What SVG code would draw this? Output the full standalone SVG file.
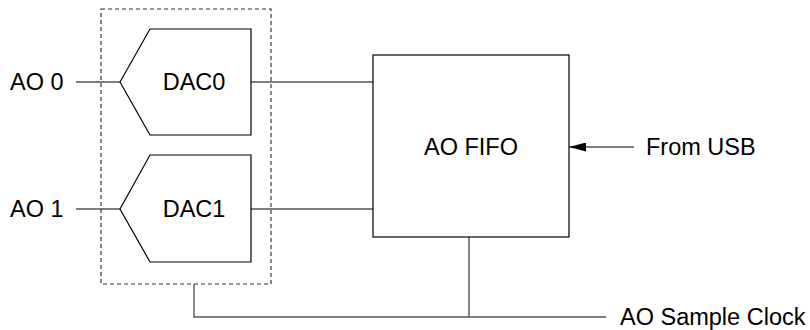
<svg xmlns="http://www.w3.org/2000/svg" width="810" height="330" viewBox="0 0 810 330">
<style>
text{font-family:"Liberation Sans",Arial,sans-serif;font-size:23.5px;fill:#000}
.ln{stroke:#000;stroke-width:1.2;fill:none}
.gr{stroke:#555;stroke-width:1.4;fill:none}
.box{stroke:#000;stroke-width:1.2;fill:#fff}
.dash{stroke:#333;stroke-width:1.2;fill:none;stroke-dasharray:4 3}
</style>
<defs>
<marker id="ah" markerWidth="17" markerHeight="9" refX="17" refY="4.5" orient="auto" markerUnits="userSpaceOnUse">
<path d="M0,0 L17,4.5 L0,9 Z" fill="#000"/>
</marker>
</defs>
<rect width="810" height="330" fill="#fff"/>
<g id="connectors">
<line class="ln" x1="76" y1="82" x2="120" y2="82"/>
<line class="ln" x1="76" y1="209" x2="120" y2="209"/>
<line class="ln" x1="251" y1="82" x2="373" y2="82"/>
<line class="ln" x1="251" y1="209" x2="373" y2="209"/>
<line class="ln" x1="634" y1="147" x2="569" y2="147" marker-end="url(#ah)"/>
<polyline class="gr" points="194,284 194,317 606,317"/>
<line class="gr" x1="469" y1="237" x2="469" y2="317"/>
</g>
<g id="group-dashed">
<rect class="dash" x="101" y="9" width="170" height="275"/>
</g>
<g id="dac0">
<polygon class="box" points="120,82 150,29 251,29 251,135 150,135"/>
<text x="194" y="90" text-anchor="middle">DAC0</text>
</g>
<g id="dac1">
<polygon class="box" points="120,209 150,155 251,155 251,262 150,262"/>
<text x="194" y="217" text-anchor="middle">DAC1</text>
</g>
<g id="fifo">
<rect class="box" x="373" y="55" width="196" height="182"/>
<text x="471" y="155" text-anchor="middle">AO FIFO</text>
</g>
<g id="labels">
<text x="10" y="90">AO 0</text>
<text x="10" y="217">AO 1</text>
<text x="646" y="155">From USB</text>
<text x="620" y="325">AO Sample Clock</text>
</g>
</svg>
